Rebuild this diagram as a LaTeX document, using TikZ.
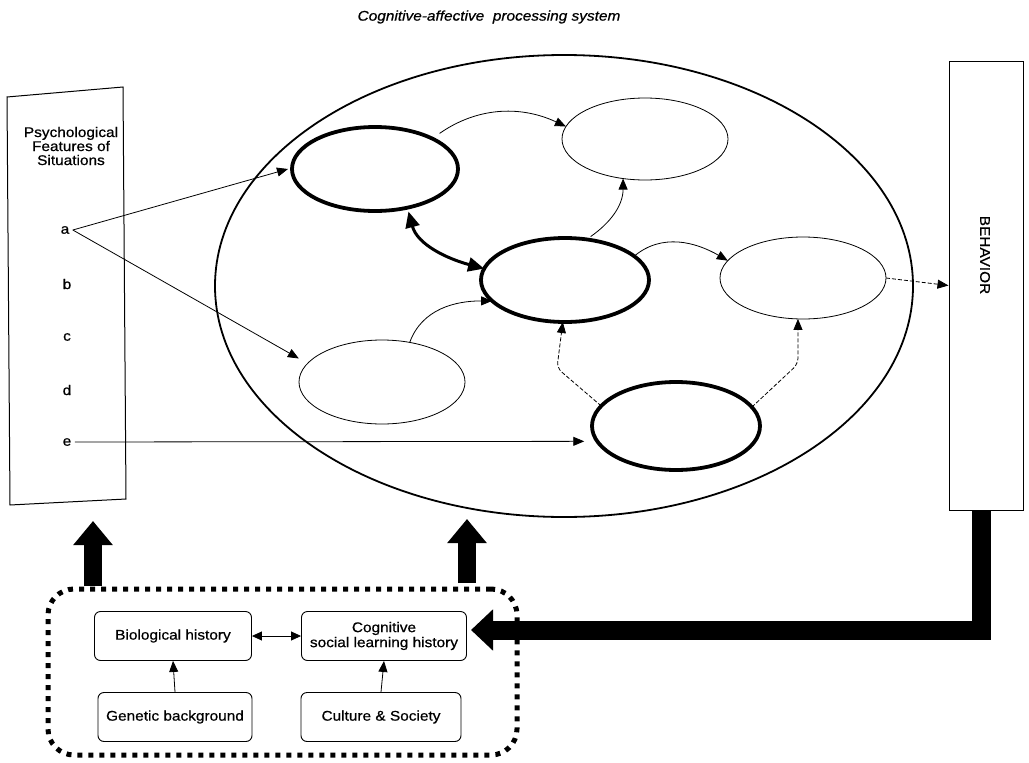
\documentclass[tikz,border=0pt]{standalone}
\usepackage{fontspec}
\setmainfont{Liberation Sans}[FakeStretch=1.1,FakeBold=0.6]
\usetikzlibrary{arrows.meta,shapes.geometric,positioning}

\begin{document}
\begin{tikzpicture}[x=1pt, y=1pt, font=\fontsize{14}{15}\selectfont,
    unit/.style={draw, ellipse, line width=0.8pt, minimum width=166pt,
      minimum height=82pt, inner sep=0pt, outer sep=0pt},
    keyunit/.style={unit, line width=3.8pt},
    histbox/.style={draw, rounded corners=6pt, line width=0.9pt,
      minimum height=49pt, inner sep=2pt, align=center},
    link/.style={line width=0.8pt, -{Triangle[length=11pt,width=9pt]}},
    weak/.style={link, dash pattern=on 4pt off 2pt},
    fatarrow/.style={line width=18pt, line join=miter,
      -{Triangle[length=24pt,width=38pt]}}]
\useasboundingbox (0,0) rectangle (1029,-763);

% situations panel
\draw[line width=1pt] (7,-97) -- (123,-87) -- (126,-499) -- (10,-505) -- cycle;
\node[align=center, font=\fontsize{14}{14}\selectfont] (feat) at (71,-146)
  {Psychological\\Features of\\Situations};
\node (fa) at (65,-230) {a};
\node (fb) at (67,-284) {b};
\node (fc) at (67,-337) {c};
\node (fd) at (67,-390) {d};
\node (fe) at (67,-442) {e};

% processing system and its units
\node[draw, ellipse, line width=1.8pt, minimum width=698pt, minimum height=462pt,
  outer sep=0pt] (cap) at (564,-286) {};
\node[font=\fontsize{14}{15}\itshape] (title) at (489,-17)
  {Cognitive-affective\ \ processing system};
\node[keyunit, minimum height=84pt] (u1) at (375,-169) {};
\node[unit] (u2) at (645,-139) {};
\node[keyunit, minimum width=168pt, minimum height=84pt] (u3) at (565,-280) {};
\node[unit] (u4) at (803,-278) {};
\node[unit, minimum height=84pt] (u5) at (382,-382) {};
\node[keyunit, minimum width=168pt, minimum height=88pt] (u6) at (676,-426) {};

\draw[link] (fa.east) -- ([xshift=-4pt]u1.west);
\draw[link, shorten >=10pt] (fa.east) -- (u5.166);
\draw[link, shorten >=13pt] (fe.east) -- (u6.191);
\draw[link, shorten <=9pt] (u1.28) to[out=35,in=155] (u2.171);
\draw[link, shorten <=5pt] (u3.62) to[out=35,in=-90] (u2.241);
\draw[link] (u3.19) to[out=40,in=150] (u4.167);
\draw[line width=3pt, {Triangle[length=16pt,width=14pt]}-{Triangle[length=16pt,width=14pt]},
  shorten <=4pt] (u1.-50) to[out=-75,in=165] (u3.172);
\draw[link] (u5.55) to[out=70,in=180] (u3.196);
\coordinate (k1) at (557,-368);
\coordinate (k2) at (798,-364);
\draw[weak, rounded corners=6pt] (u6.165) -- (k1) -- (u3.-93);
\draw[weak, rounded corners=6pt] (u6.14) -- (k2) -- (u4.-97);

% behavior
\node[draw, line width=1pt, minimum width=74pt, minimum height=449pt] (beh) at (986,-285.5) {};
\node[rotate=-90] (behtxt) at (985,-255) {BEHAVIOR};
\draw[weak] (u4.east) -- (beh.west);

% histories
\node[draw, line width=5pt, dash pattern=on 5pt off 6pt, rounded corners=26pt,
  minimum width=469pt, minimum height=166pt] (hist) at (282.5,-672) {};
\node[histbox, minimum width=157pt] (bio) at (173,-636) {Biological history};
\node[histbox, minimum width=154pt] (gen) at (175,-717) {Genetic background};
\node[histbox, minimum width=165pt, font=\fontsize{14}{15}\selectfont] (cog) at (384,-636)
  {Cognitive\\social learning history};
\node[histbox, minimum width=160pt] (cul) at (381,-717) {Culture \& Society};
\draw[link] (gen.north) -- (bio.south);
\draw[link] (cul.north) -- (cog.south);
\draw[line width=0.8pt, {Triangle[length=10pt,width=9pt]}-{Triangle[length=10pt,width=9pt]}]
  (bio.east) -- (cog.west);

% feedback and influence arrows
\coordinate (up1) at (93,-586);
\coordinate (up2) at (467,-583);
\coordinate (fb0) at (981,-510);
\coordinate (fbtip) at (471,-630);
\draw[fatarrow] (up1) -- (93,-521);
\draw[fatarrow] (up2) -- (467,-519);
\draw[fatarrow, line width=19pt, -{Triangle[length=22pt,width=40pt]}]
  (fb0) |- (fbtip);
\end{tikzpicture}
\end{document}
